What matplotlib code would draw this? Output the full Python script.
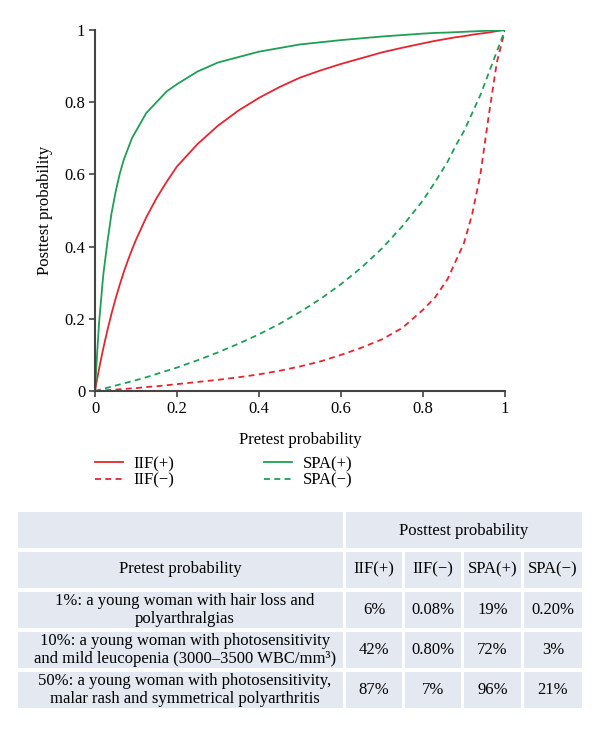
#!/usr/bin/env python3
import matplotlib.pyplot as plt
from matplotlib.patches import Rectangle

plt.rcParams['font.family'] = ['Liberation Serif', 'DejaVu Serif']

# valores (probabilidad pretest -> postest)
pretest = [0, .005, .01, .02, .03, .04, .05, .06, .07, .08, .09, .1, .125, .15, .175, .2, .25, .3, .35, .4, .45,
           .5, .55, .6, .65, .7, .75, .8, .83, .86, .88, .9, .92, .94, .96, .98, 1]
iif_pos = [0, .032, .062, .117, .167, .213, .255, .293, .329, .361, .391, .419, .481, .534, .580, .622, .684, .735,
           .777, .812, .842, .868, .888, .906, .922, .938, .951, .963, .970, .976, .980, .983, .987, .990, .993, .997, 1]
iif_neg = [0, .0004, .0007, .0014, .0022, .003, .004, .0048, .0056, .0065, .0073, .008, .011, .013, .016, .019, .025,
           .031, .038, .046, .056, .068, .082, .10, .12, .143, .175, .225, .26, .31, .36, .41, .49, .60, .76, .91, 1]
spa_pos = [0, .10, .19, .32, .41, .49, .55, .60, .64, .67, .70, .72, .77, .80, .83, .85, .885, .91, .925, .94, .95,
           .96, .966, .972, .977, .982, .986, .99, .992, .993, .994, .995, .996, .997, .998, .999, 1]
spa_neg = [0, .0015, .003, .006, .009, .012, .015, .018, .021, .024, .027, .030, .038, .047, .056, .065, .085, .107,
           .131, .157, .186, .219, .255, .296, .342, .395, .457, .528, .58, .635, .68, .72, .77, .82, .88, .94, 1]

ticks = [0, 0.2, 0.4, 0.6, 0.8, 1]
tick_labels = ['0', '0.2', '0.4', '0.6', '0.8', '1']

# tabla
test_names = ['IIF(+)', 'IIF(\u2212)', 'SPA(+)', 'SPA(\u2212)']
scenarios = ['1%: a young woman with hair loss and\npolyarthralgias',
             '10%: a young woman with photosensitivity\nand mild leucopenia (3000\u20133500 WBC/mm\u00b3)',
             '50%: a young woman with photosensitivity,\nmalar rash and symmetrical polyarthritis']
table_values = [['6%', '0.08%', '19%', '0.20%'],
                ['42%', '0.80%', '72%', '3%'],
                ['87%', '7%', '96%', '21%']]

RED = '#e52530'
GREEN = '#1f9f55'
FS = 12
DASH = (0, (3.3, 2.4))


def grafico():
    fig = plt.figure(figsize=(6, 7.3), dpi=100)
    ax = fig.add_axes([95 / 600, 1 - 391 / 730, 410 / 600, 361 / 730])

    ax.plot(pretest, iif_pos, color=RED, lw=1.3, label='IIF(+)')
    ax.plot(pretest, iif_neg, color=RED, lw=1.3, ls=DASH, label='IIF(\u2212)')
    ax.plot(pretest, spa_pos, color=GREEN, lw=1.3, label='SPA(+)')
    ax.plot(pretest, spa_neg, color=GREEN, lw=1.3, ls=DASH, label='SPA(\u2212)')

    ax.set_xlim(0, 1)
    ax.set_ylim(0, 1)
    ax.set_xticks(ticks, tick_labels)
    ax.set_yticks(ticks, tick_labels)
    for s in ['top', 'right']:
        ax.spines[s].set_visible(False)
    for s in ['left', 'bottom']:
        ax.spines[s].set_color('#444444')
        ax.spines[s].set_linewidth(1.5)
    ax.tick_params(direction='out', length=4, width=1.2, color='#444444', labelsize=FS, pad=3)
    ax.set_xlabel('Pretest probability', fontsize=FS, labelpad=11)
    ax.set_ylabel('Posttest probability', fontsize=FS, labelpad=8)

    fig.legend(loc='upper left', bbox_to_anchor=(95 / 600, 1 - 456 / 730), ncol=2,
               frameon=False, fontsize=FS, handlelength=1.65, handletextpad=0.65,
               columnspacing=5.4, labelspacing=0.05, borderpad=0, borderaxespad=0)

    # tabla dibujada en coordenadas de pixel
    tab = fig.add_axes([0, 0, 1, 1])
    tab.set_xlim(0, 600)
    tab.set_ylim(730, 0)
    tab.axis('off')
    bg = '#e4e9f1'
    cols = [(18, 343), (346, 402), (405, 461), (464, 521), (524, 582)]
    rows = [(512, 548), (552, 588), (592, 628), (632, 668), (672, 708)]

    tab.add_patch(Rectangle((18, 512), 325, 36, color=bg, lw=0))
    tab.add_patch(Rectangle((346, 512), 236, 36, color=bg, lw=0))
    tab.text(464, 531, 'Posttest probability', ha='center', va='center', fontsize=FS)
    for r in range(1, 5):
        y0, y1 = rows[r]
        for x0, x1 in cols:
            tab.add_patch(Rectangle((x0, y0), x1 - x0, y1 - y0, color=bg, lw=0))
    tab.text(180, 569, 'Pretest probability', ha='center', va='center', fontsize=FS)
    for j, name in enumerate(test_names):
        x0, x1 = cols[j + 1]
        tab.text((x0 + x1) / 2, 569, name, ha='center', va='center', fontsize=FS)
    for i, (desc, vals) in enumerate(zip(scenarios, table_values)):
        y0, y1 = rows[i + 2]
        yc = (y0 + y1) / 2
        tab.text(185, yc, desc, ha='center', va='center', fontsize=FS,
                 multialignment='center', linespacing=1.1)
        for j, v in enumerate(vals):
            x0, x1 = cols[j + 1]
            tab.text((x0 + x1) / 2, yc, v, ha='center', va='center', fontsize=FS)

    fig.savefig('out.png', dpi=100)


if __name__ == "__main__":
    grafico()
